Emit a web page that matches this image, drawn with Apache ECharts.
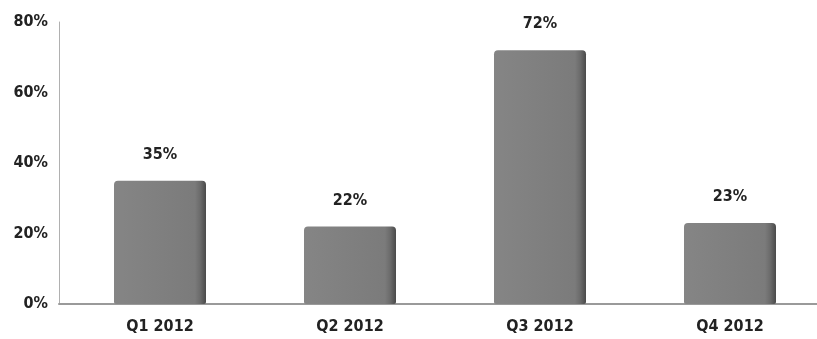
<!DOCTYPE html>
<html>
<head>
<meta charset="utf-8">
<script src="https://cdn.jsdelivr.net/npm/echarts@6/dist/echarts.min.js"></script>
<style>
html,body{margin:0;padding:0;background:#fff;overflow:hidden;}
#wrap{width:817px;height:339px;overflow:hidden;}
#chart{width:825px;height:339px;}
</style>
</head>
<body>
<div id="wrap"><div id="chart"></div></div>
<script>
var categories = ["Q1 2012", "Q2 2012", "Q3 2012", "Q4 2012"];
var values = [35, 22, 72, 23];
var yTicks = [0, 20, 40, 60, 80];

var FONT = '"Liberation Sans Narrow", "DejaVu Sans Condensed", "Roboto Condensed", sans-serif';
var chart = echarts.init(document.getElementById('chart'));
var barColor = new echarts.graphic.LinearGradient(0, 0, 1, 0, [
  {offset: 0, color: '#858585'},
  {offset: 0.88, color: '#7b7b7b'},
  {offset: 0.94, color: '#6a6a6a'},
  {offset: 1, color: '#4a4a4a'}
]);
chart.setOption({
  animation: false,
  grid: [
    {left: 65, right: 0, top: 22, bottom: 35},
    {left: 59, right: 8, top: 22, bottom: 35}
  ],
  xAxis: [
    {
      type: 'category', gridIndex: 0, data: categories,
      axisLine: {show: false}, axisTick: {show: false},
      axisLabel: {color: '#222', fontFamily: FONT, fontSize: 16, fontWeight: 'bold', margin: 15}
    },
    {
      type: 'value', gridIndex: 1, min: 0, max: 1,
      axisLine: {show: true, lineStyle: {color: '#9a9a9a', width: 2}},
      axisTick: {show: false}, axisLabel: {show: false}, splitLine: {show: false}
    }
  ],
  yAxis: [
    {
      type: 'value', gridIndex: 0, min: yTicks[0], max: yTicks[yTicks.length - 1], interval: 20,
      offset: 6,
      axisLine: {show: true, lineStyle: {color: '#b0b0b0', width: 1}},
      axisTick: {show: false},
      splitLine: {show: false},
      axisLabel: {color: '#222', fontFamily: FONT, fontSize: 16, fontWeight: 'bold', margin: 11,
        formatter: function (v) { return v + '%'; }}
    },
    {
      type: 'value', gridIndex: 1, show: false, min: 0, max: 1
    }
  ],
  series: [{
    type: 'bar',
    xAxisIndex: 0, yAxisIndex: 0,
    data: values,
    barWidth: 92,
    itemStyle: {color: barColor, borderRadius: [4, 4, 2, 2]},
    label: {
      show: true, position: 'top', distance: 18,
      color: '#222', fontFamily: FONT, fontSize: 16, fontWeight: 'bold',
      formatter: function (p) { return p.value + '%'; }
    }
  }]
});
</script>
</body>
</html>
